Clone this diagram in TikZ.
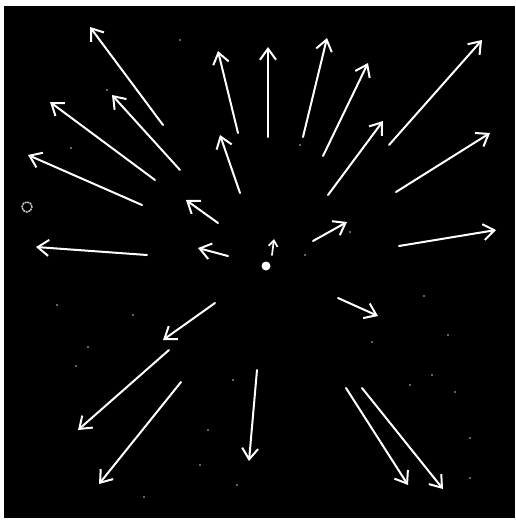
\documentclass[tikz,border=0pt]{standalone}
\usetikzlibrary{arrows.meta}
\begin{document}
\begin{tikzpicture}[x=1pt,y=-1pt,
  vec/.style={draw=white,line width=2pt,line cap=round,
    -{Straight Barb[length=11pt,width=16pt,line width=2pt]}},
  tinyvec/.style={draw=white,line width=1.7pt,line cap=round,
    -{Straight Barb[length=6pt,width=9pt,line width=1.7pt]}}]
\useasboundingbox (0,0) rectangle (515,520);
\fill[white] (0,0) rectangle (515,520);
\fill[black] (4,6) rectangle (515,518);
% arrows: tail -> head
\foreach \n/\tx/\ty/\hx/\hy in {
  a/163/125/90/27,
  b/180/170/112/95,
  c/155/180/50/102,
  d/142/205/28/155,
  e/147/255/36/247,
  f/238/133/218/51,
  g/240/193/220/135,
  h/218/223/186/200,
  i/228/256/198/248,
  j/268/137/268/47,
  k/303/137/327/38,
  l/323/156/368/63,
  m/328/195/383/121,
  n/389/145/482/40,
  o/396/192/490/133,
  p/399/246/496/230,
  q/313/241/347/222,
  r/215/303/163/340,
  s/169/350/78/430,
  t/181/382/99/484,
  u/257/370/249/461,
  v/338/298/378/316,
  w/346/388/408/485,
  x/362/388/443/489}{
  \coordinate (\n0) at (\tx,\ty);
  \coordinate (\n1) at (\hx,\hy);
  \draw[vec] (\n0) -- (\n1);
}
\coordinate (z0) at (272,255);
\coordinate (z1) at (274,239);
\draw[tinyvec] (z0) -- (z1);
% central body
\node[circle,fill=white,inner sep=0pt,minimum size=9pt] (dot) at (266,266) {};
% faint ring at left
\node[circle,draw=white!75!black,line width=1.6pt,dash pattern=on 2pt off 0.7pt,inner sep=0pt,minimum size=10pt] (ring) at (27,207) {};
% dust specks
\foreach \px/\py in {71/148,107/90,180/40,300/145,350/232,372/342,410/385,470/478,432/375,424/296,455/392,470/438,144/497,237/485,133/315,88/347,57/305,76/366,233/380,208/430,200/465,305/255,448/335}{
  \fill[white!80!black] (\px,\py) circle (0.9pt);
}
\end{tikzpicture}
\end{document}
